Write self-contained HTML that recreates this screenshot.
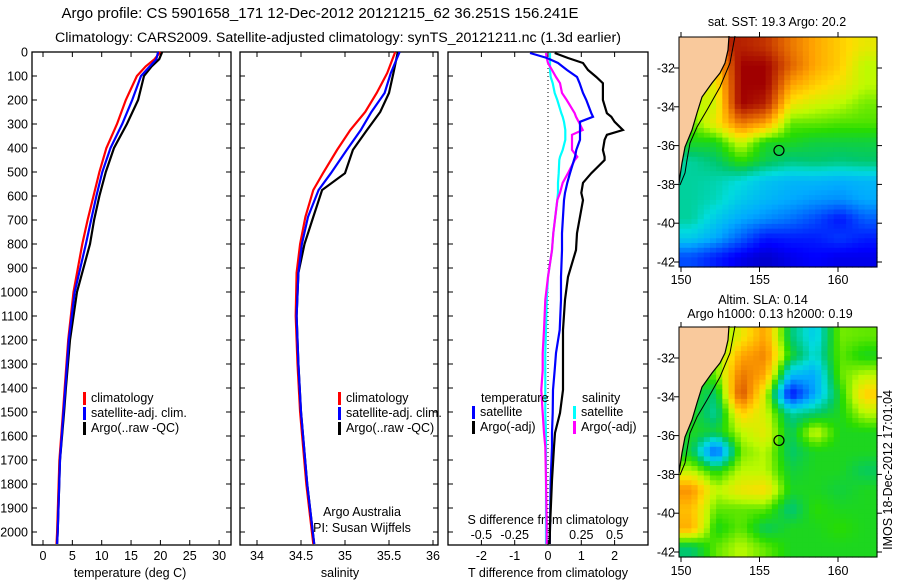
<!DOCTYPE html>
<html><head><meta charset="utf-8">
<style>
body{margin:0;background:#fff;}
svg{display:block;font-family:"Liberation Sans",sans-serif;}
text{font-size:12.5px;fill:#000;}
</style></head>
<body>
<svg id="fig" width="900" height="580" viewBox="0 0 900 580" xmlns="http://www.w3.org/2000/svg">
<g id="titles">
<text x="320" y="18" text-anchor="middle" style="font-size:15px">Argo profile: CS 5901658_171 12-Dec-2012 20121215_62 36.251S 156.241E</text>
<text x="338" y="42" text-anchor="middle" style="font-size:14.2px">Climatology: CARS2009. Satellite-adjusted climatology: synTS_20121211.nc (1.3d earlier)</text>
</g>
<g id="p1"></g>
<g id="p2"></g>
<g id="p3"></g>
<g id="m1"></g>
<g id="m2"></g>
<text transform="translate(892,470) rotate(-90)" text-anchor="middle">IMOS 18-Dec-2012 17:01:04</text>
</svg>
<script>
// ---- data ----
const depthTicks=[0,100,200,300,400,500,600,700,800,900,1000,1100,1200,1300,1400,1500,1600,1700,1800,1900,2000];
const tTicks=[0,5,10,15,20,25,30];
const sTicks=[34,34.5,35,35.5,36];
const tdTicks=[-2,-1,0,1,2];
const sdTicks=[-0.5,-0.25,0,0.25,0.5];
const sdTickLabels=['-0.5','-0.25','0','0.25','0.5'];
const tDepth=[0,30,60,100,200,300,400,500,600,700,800,1000,1200,1400,1500,1700,2000,2050];
const tClim=[20.0,19.0,17.5,16.0,14.1,12.6,10.8,9.6,8.6,7.6,6.7,5.2,4.3,3.7,3.4,2.8,2.4,2.3];
const tSat=[19.6,19.3,18.2,16.7,15.2,13.5,11.5,10.1,9.1,8.2,7.3,5.4,4.4,3.8,3.5,2.9,2.5,2.4];
const tArgo=[20.3,19.8,18.5,17.2,16.2,14.3,12.1,10.7,9.6,8.7,8.0,5.8,4.6,3.9,3.6,2.9,2.5,2.4];
const sDepth=[0,88,171,250,325,408,505,575,687,800,920,1100,1300,1500,1800,2050];
const sClim=[35.57,35.48,35.36,35.23,35.06,34.91,34.75,34.64,34.55,34.49,34.45,34.44,34.46,34.49,34.56,34.64];
const sSat=[35.62,35.52,35.45,35.30,35.18,35.02,34.84,34.70,34.58,34.51,34.47,34.45,34.47,34.50,34.57,34.65];
const sArgo=[35.6,35.55,35.5,35.40,35.25,35.09,35.0,34.74,34.64,34.54,34.47,34.45,34.47,34.50,34.57,34.65];
const dDepth=[4,25,46,75,104,130,171,200,255,270,291,325,345,366,408,437,450,505,545,587,617,755,825,937,1033,1158,1254,1325,1408,1504,1587,1645,1783,1979,2050];
const dTArgo=[0.2,0.6,1.05,1.2,1.45,1.65,1.65,1.65,1.77,1.9,2.0,2.25,1.77,1.7,1.65,1.7,1.7,1.3,1.05,1.0,1.05,0.87,0.84,0.6,0.51,0.45,0.45,0.45,0.45,0.36,0.21,0.18,0.12,0.06,0.05];
const dTSat=[-0.54,-0.03,0.3,0.57,0.87,0.95,1.05,1.15,1.3,1.35,0.96,0.96,0.96,0.96,0.85,0.81,0.78,0.66,0.58,0.51,0.48,0.42,0.42,0.39,0.39,0.35,0.24,0.2,0.15,0.14,0.12,0.12,0.08,0.06,0.05];
const dSArgo=[-0.015,-0.01,0.0,0.03,0.06,0.09,0.105,0.14,0.2,0.21,0.23,0.26,0.18,0.18,0.18,0.22,0.2,0.15,0.11,0.09,0.07,0.04,0.03,0.0,-0.02,-0.03,-0.04,-0.04,-0.05,-0.04,-0.03,-0.02,-0.015,-0.01,-0.01];
const dSSat=[0.015,0.015,0.015,0.015,0.02,0.035,0.05,0.07,0.1,0.11,0.12,0.13,0.13,0.13,0.11,0.09,0.085,0.08,0.075,0.075,0.07,0.04,0.03,0.0,-0.01,-0.015,-0.02,-0.02,-0.02,-0.02,-0.015,-0.015,-0.015,-0.015,-0.015];
// map grids (jet colormap fraction, -1 = land)
const sstGrid=[
[-1,-1,0.95,0.92,0.82,0.75,0.7,0.65],
[-1,0.7,1,1,0.85,0.75,0.7,0.6],
[-1,0.65,1,1,0.76,0.7,0.66,0.6],
[0.6,0.62,1,0.95,0.66,0.62,0.6,0.56],
[0.55,0.66,0.82,0.76,0.55,0.55,0.54,0.54],
[0.5,0.5,0.62,0.5,0.5,0.48,0.48,0.48],
[0.42,0.45,0.52,0.47,0.44,0.45,0.44,0.45],
[0.42,0.41,0.38,0.34,0.32,0.32,0.31,0.32],
[0.42,0.4,0.35,0.32,0.3,0.28,0.27,0.3],
[0.42,0.35,0.3,0.27,0.24,0.2,0.14,0.22],
[0.35,0.3,0.22,0.14,0.15,0.15,0.18,0.15],
[0.2,0.15,0.1,0.07,0.1,0.12,0.1,0.1]];
const slaGrid=[
[-1,0.52,0.65,0.76,0.45,0.35,0.56,0.55],
[-1,0.55,0.75,0.8,0.5,0.38,0.55,0.5],
[-1,0.55,0.82,0.75,0.33,0.3,0.55,0.6],
[0.5,0.45,0.88,0.62,0.12,0.3,0.5,0.7],
[0.5,0.42,0.7,0.62,0.42,0.45,0.5,0.6],
[0.5,0.48,0.6,0.65,0.46,0.62,0.5,0.5],
[0.48,0.2,0.56,0.6,0.45,0.5,0.5,0.5],
[0.6,0.5,0.6,0.6,0.48,0.5,0.5,0.46],
[0.78,0.6,0.66,0.68,0.5,0.5,0.48,0.5],
[0.72,0.55,0.55,0.55,0.44,0.52,0.5,0.5],
[0.74,0.5,0.55,0.46,0.5,0.5,0.52,0.5],
[0.45,0.55,0.6,0.55,0.5,0.5,0.5,0.5]];
const lonTicks=[150,155,160];
const latTicks=[-32,-34,-36,-38,-40,-42];
const argoLon=156.24, argoLat=-36.25;

// ---- helpers ----
const NS='http://www.w3.org/2000/svg';
function mk(tag,attrs,parent){const e=document.createElementNS(NS,tag);for(const k in attrs)e.setAttribute(k,attrs[k]);parent.appendChild(e);return e;}
function txt(s,x,y,anchor,parent){const t=mk('text',{x:x,y:y,'text-anchor':anchor||'middle'},parent);t.textContent=s;return t;}
const yD=d=>52+d*0.24;
const PT=52,PB=545;

function panel(g,x0,x1,name){
  const r=mk('rect',{x:x0,y:PT,width:x1-x0,height:PB-PT,fill:'none',stroke:'#000','stroke-width':1.3},g);
  
  
  depthTicks.forEach(d=>{mk('line',{x1:x0,x2:x0+5,y1:yD(d),y2:yD(d),stroke:'#000'},g);mk('line',{x1:x1-5,x2:x1,y1:yD(d),y2:yD(d),stroke:'#000'},g);});
}
function line(g,xs,ds,fx,color,name,w){
  const pts=xs.map((v,i)=>fx(v).toFixed(1)+','+yD(ds[i]).toFixed(1)).join(' ');
  const p=mk('polyline',{points:pts,fill:'none',stroke:color,'stroke-width':w||2},g);
  
  
}
function xticks(g,ticks,fx,labels,ly){
  ticks.forEach((t,i)=>{const x=fx(t);mk('line',{x1:x,x2:x,y1:PT,y2:PT+5,stroke:'#000'},g);mk('line',{x1:x,x2:x,y1:PB-5,y2:PB,stroke:'#000'},g);
  const l=txt(labels?labels[i]:String(t),x,ly,'middle',g);
  
  });
}
function legend(g,x,y,items){
  items.forEach((it,i)=>{mk('rect',{x:x,y:y+i*15-10,width:3,height:13,fill:it[0]},g);
  const t=txt(it[1],x+8,y+i*15,'start',g);
  
  });
}

// ---- panel 1: temperature ----
const g1=document.getElementById('p1');
const fT=t=>43+t*5.87;
panel(g1,32,231,'temperature');
depthTicks.forEach(d=>{const l=txt(String(d),28,yD(d)+4.5,'end',g1);});
xticks(g1,tTicks,fT,null,560);
txt('temperature (deg C)',130,577,'middle',g1);
line(g1,tClim,tDepth,fT,'#f00','temp-climatology-line',2.2);
line(g1,tArgo,tDepth,fT,'#000','temp-argo-line',2.2);
line(g1,tSat,tDepth,fT,'#00f','temp-satellite-line',2.2);
legend(g1,83,402,[['#f00','climatology'],['#00f','satellite-adj. clim.'],['#000','Argo(..raw -QC)']]);

// ---- panel 2: salinity ----
const g2=document.getElementById('p2');
const fS=s=>257+(s-34)*88;
panel(g2,240,438,'salinity');
xticks(g2,sTicks,fS,null,560);
txt('salinity',340,577,'middle',g2);
line(g2,sClim,sDepth,fS,'#f00','sal-climatology-line',2.2);
line(g2,sArgo,sDepth,fS,'#000','sal-argo-line',2.2);
line(g2,sSat,sDepth,fS,'#00f','sal-satellite-line',2.2);
legend(g2,338,402,[['#f00','climatology'],['#00f','satellite-adj. clim.'],['#000','Argo(..raw -QC)']]);
txt('Argo Australia',362,516,'middle',g2);
txt('PI: Susan Wijffels',362,532,'middle',g2);

// ---- panel 3: differences ----
const g3=document.getElementById('p3');
const fTD=t=>548+t*33.3, fSD=s=>548+s*133.3;
panel(g3,448,648,'difference');
mk('line',{x1:548,x2:548,y1:PT,y2:PB,stroke:'#000','stroke-dasharray':'1,3'},g3);
xticks(g3,tdTicks,fTD,null,560);
txt('T difference from climatology',548,577,'middle',g3);
sdTicks.forEach((t,i)=>{const l=txt(sdTickLabels[i],fSD(t),539,'middle',g3);});
txt('S difference from climatology',548,524,'middle',g3);
line(g3,dSSat,dDepth,fSD,'#0ff','sal-diff-satellite-line',2.2);
line(g3,dSArgo,dDepth,fSD,'#f0f','sal-diff-argo-line',2.2);
line(g3,dTSat,dDepth,fTD,'#00f','temp-diff-satellite-line',2.2);
line(g3,dTArgo,dDepth,fTD,'#000','temp-diff-argo-line',2.2);
txt('temperature',481,402,'start',g3);
legend(g3,472,416,[['#00f','satellite'],['#000','Argo(-adj)']]);
txt('salinity',582,402,'start',g3);
legend(g3,573,416,[['#0ff','satellite'],['#f0f','Argo(-adj)']]);

// ---- maps ----
function jet(v){
  const c=[[0,[0,0,130]],[0.12,[0,0,255]],[0.3,[0,170,255]],[0.38,[0,220,220]],[0.45,[0,200,110]],[0.52,[40,220,0]],[0.6,[190,250,0]],[0.68,[255,220,0]],[0.76,[255,160,0]],[0.86,[220,90,0]],[1,[160,0,0]]];
  for(let i=1;i<c.length;i++){if(v<=c[i][0]){const a=c[i-1],b=c[i],f=(v-a[0])/(b[0]-a[0]);return 'rgb('+a[1].map((q,k)=>Math.round(q+(b[1][k]-q)*f)).join(',')+')';}}
  return 'rgb(160,0,0)';
}
function sample(grid,r,c){
  const rows=grid.length,cols=grid[0].length;
  r=Math.max(0,Math.min(rows-1,r));c=Math.max(0,Math.min(cols-1,c));
  const r0=Math.floor(r),c0=Math.floor(c),r1=Math.min(rows-1,r0+1),c1=Math.min(cols-1,c0+1),fr=r-r0,fc=c-c0;
  const v=[[grid[r0][c0],grid[r0][c1]],[grid[r1][c0],grid[r1][c1]]];
  let sum=0,wsum=0;
  [[0,0,(1-fr)*(1-fc)],[0,1,(1-fr)*fc],[1,0,fr*(1-fc)],[1,1,fr*fc]].forEach(q=>{const x=v[q[0]][q[1]];if(x>=0){sum+=x*q[2];wsum+=q[2];}});
  return wsum>0?sum/wsum:0.5;
}
function map(id,top,grid,t1,t2,lonLabY){
  const g=document.getElementById(id);
  const L=679,R=877,T=top,B=top+230;
  const fx=lon=>681+(lon-150)*15.7, fy=lat=>top+31+(-32-lat)*19.4;
  const rows=grid.length,cols=grid[0].length,SUB=4;
  const nr=rows*SUB,nc=cols*SUB,cw=(R-L)/nc,ch=(B-T)/nr;
  mk('rect',{x:L,y:T,width:R-L,height:B-T,fill:'#f9c99c'},g);
  for(let r=0;r<nr;r++)for(let c=0;c<nc;c++){
    const v=sample(grid,(r+0.5)/SUB-0.5,(c+0.5)/SUB-0.5);
    const cell=mk('rect',{x:(L+c*cw).toFixed(1),y:(T+r*ch).toFixed(1),width:(cw+0.6).toFixed(1),height:(ch+0.6).toFixed(1),fill:jet(v)},g);
    
    
  }
  const o=top-37;
  const coast=[[729,36],[728,50],[725,63],[720,73],[712,83],[702,97],[697,113],[692,130],[685,147],[682,163],[679,183]];
  const land=coast.map(p=>p[0]+','+(p[1]+o)).join(' ')+' '+L+','+(183+o)+' '+L+','+T;
  const lp=mk('polygon',{points:land,fill:'#f9c99c'},g);
  
  
  mk('polyline',{points:coast.map(p=>p[0]+','+(p[1]+o)).join(' '),fill:'none',stroke:'#000','stroke-width':1.2},g);
  const cont=[[735,36],[730,63],[720,87],[707,110],[697,127],[690,143],[687,160],[685,173],[680,185]];
  mk('polyline',{points:cont.map(p=>p[0]+','+(p[1]+o)).join(' '),fill:'none',stroke:'#000','stroke-width':1},g);
  const fr=mk('rect',{x:L,y:T,width:R-L,height:B-T,fill:'none',stroke:'#000','stroke-width':1},g);
  
  
  lonTicks.forEach(l=>{const x=fx(l);mk('line',{x1:x,x2:x,y1:T-5,y2:T,stroke:'#000'},g);mk('line',{x1:x,x2:x,y1:B,y2:B+5,stroke:'#000'},g);txt(String(l),x,lonLabY,'middle',g);});
  latTicks.forEach(l=>{const y=fy(l);mk('line',{x1:L-5,x2:L,y1:y,y2:y,stroke:'#000'},g);mk('line',{x1:R,x2:R+5,y1:y,y2:y,stroke:'#000'},g);txt(String(l),675,y+4.5,'end',g);});
  const c=mk('circle',{cx:fx(argoLon),cy:fy(argoLat),r:5,fill:'none',stroke:'#000','stroke-width':1.2},g);
  
  
  t1&&txt(t1[0],t1[1],t1[2],'middle',g);
  t2&&txt(t2[0],t2[1],t2[2],'middle',g);
}
map('m1',37,sstGrid,['sat. SST: 19.3 Argo: 20.2',777,26],null,284);
map('m2',327,slaGrid,['Altim. SLA: 0.14',763,304],['Argo h1000: 0.13 h2000: 0.19',770,318],575);
</script>
</body></html>
